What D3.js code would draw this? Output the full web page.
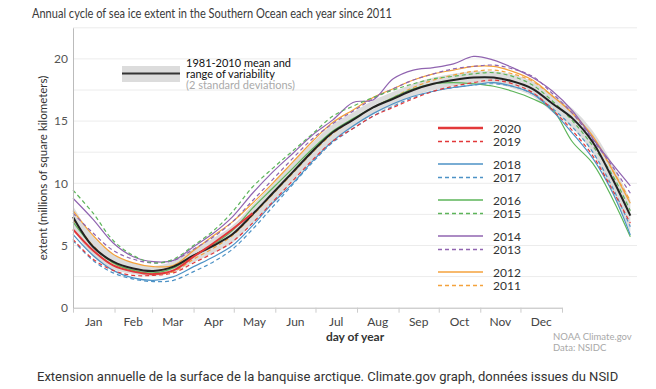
<!DOCTYPE html>
<html>
<head>
<meta charset="utf-8">
<script src="https://cdn.jsdelivr.net/npm/d3@7"></script>
<style>
body { margin: 0; background: #fff; }
svg { display: block; font-family: Lato, "Noto Sans", sans-serif; }
</style>
</head>
<body>
<svg id="chart" width="656" height="389"></svg>
<script>
// day of year for every sample (the curves run on past the Dec label, as drawn)
var days = [1, 16, 31, 46, 61, 76, 91, 106, 120, 135, 150, 165, 180, 195, 210, 225, 240, 255, 270, 285, 300, 315, 329, 344, 359, 374, 389, 404, 417];

// 1981-2010 mean and +/- 2 standard deviations
var meanExtent = [7.3, 4.9, 3.7, 3.15, 2.95, 3.3, 4.2, 5.0, 5.9, 7.5, 9.2, 10.9, 12.6, 14.1, 15.1, 16.1, 16.8, 17.5, 18.0, 18.3, 18.5, 18.5, 18.2, 17.6, 16.4, 15.2, 13.3, 10.3, 7.4];
var rangeLow = [6.4, 4.1, 3.1, 2.7, 2.55, 2.85, 3.65, 4.4, 5.2, 6.75, 8.45, 10.15, 11.9, 13.45, 14.5, 15.55, 16.25, 17.0, 17.5, 17.8, 18.0, 18.0, 17.65, 17.0, 15.7, 14.4, 12.4, 9.1, 6.1];
var rangeHigh = [8.2, 5.7, 4.3, 3.6, 3.35, 3.75, 4.75, 5.6, 6.6, 8.25, 9.95, 11.65, 13.3, 14.75, 15.7, 16.65, 17.35, 18.0, 18.5, 18.8, 19.0, 19.0, 18.75, 18.2, 17.1, 16.0, 14.2, 11.5, 8.7];

// yearly extent, millions of km2
var y2020 = [6.3, 4.6, 3.4, 2.9, 2.7, 3.0, 4.1, 5.2, 6.3, 7.6];
var y2019 = [5.5, 3.9, 3.0, 2.6, 2.6, 2.8, 3.6, 4.4, 5.3, 6.8, 8.5, 10.2, 11.9, 13.4, 14.4, 15.4, 16.1, 16.8, 17.4, 17.8, 18.1, 18.3, 18.0, 17.3, 15.9, 14.2, 12.2, 9.4, 6.8];
var y2018 = [5.9, 4.2, 3.0, 2.4, 2.2, 2.5, 3.3, 4.1, 5.0, 6.6, 8.4, 10.0, 11.8, 13.4, 14.6, 15.6, 16.4, 17.0, 17.4, 17.7, 17.9, 18.1, 17.8, 17.2, 15.8, 14.0, 12.0, 9.2, 5.85];
var y2017 = [5.4, 3.8, 2.8, 2.3, 2.1, 2.2, 2.9, 3.7, 4.7, 6.3, 8.1, 9.9, 11.7, 13.3, 14.4, 15.4, 16.2, 16.9, 17.4, 17.7, 17.9, 18.0, 17.8, 17.2, 16.0, 14.5, 12.5, 9.6, 6.5];
var y2016 = [6.9, 4.9, 3.6, 3.0, 2.8, 3.2, 4.2, 5.1, 6.2, 8.0, 9.6, 11.2, 12.8, 14.2, 15.2, 16.1, 16.9, 17.6, 18.0, 18.1, 18.0, 17.8, 17.4, 16.8, 15.9, 13.3, 11.6, 8.7, 5.7];
var y2015 = [9.45, 7.6, 5.4, 4.2, 3.6, 3.9, 5.0, 6.2, 7.7, 9.7, 11.2, 12.6, 14.0, 15.4, 16.2, 16.9, 17.5, 18.0, 18.4, 18.6, 18.8, 18.9, 18.6, 17.9, 16.6, 15.0, 13.0, 10.6, 7.8];
var y2014 = [8.8, 7.1, 5.2, 4.1, 3.7, 3.8, 4.9, 6.0, 7.3, 9.2, 10.9, 12.4, 13.9, 15.1, 16.5, 16.7, 18.4, 19.1, 19.3, 19.6, 20.2, 19.9, 19.3, 18.5, 17.4, 15.8, 13.6, 11.5, 9.8];
var y2013 = [7.6, 6.0, 4.6, 3.9, 3.6, 3.8, 4.7, 5.7, 6.9, 8.6, 10.3, 12.0, 13.6, 14.8, 15.8, 16.8, 17.6, 18.3, 18.8, 19.2, 19.4, 19.5, 19.2, 18.6, 17.2, 15.6, 13.5, 11.3, 9.2];
var y2012 = [7.8, 5.8, 4.3, 3.6, 3.3, 3.4, 4.6, 5.8, 6.9, 8.4, 10.0, 11.7, 13.4, 14.9, 15.9, 16.9, 17.6, 18.3, 18.8, 19.1, 19.4, 19.4, 19.0, 18.3, 17.0, 15.6, 13.8, 11.0, 8.4];
var y2011 = [7.1, 5.0, 3.6, 3.0, 2.7, 2.9, 3.9, 4.8, 5.8, 7.4, 9.1, 10.8, 12.5, 14.0, 15.1, 16.1, 16.9, 17.7, 18.3, 18.7, 19.0, 19.1, 18.8, 18.2, 17.0, 15.6, 13.7, 11.0, 8.6];

var years = ["2020", "2019", "2018", "2017", "2016", "2015", "2014", "2013", "2012", "2011"];
var yearValues = [y2020, y2019, y2018, y2017, y2016, y2015, y2014, y2013, y2012, y2011];

var monthLabels = ["Jan", "Feb", "Mar", "Apr", "May", "Jun", "Jul", "Aug", "Sep", "Oct", "Nov", "Dec"];
var monthStarts = [1, 32, 60, 91, 121, 152, 182, 213, 244, 274, 305, 335, 366];
var yTicks = [0, 5, 10, 15, 20];
var gridTicks = [2.5, 5, 7.5, 10, 12.5, 15, 17.5, 20, 22.5];

// pair colours: solid = even year, dashed = odd year
var pairColors = ["#e2383a", "#4d92c6", "#5db55a", "#9064b0", "#f4a23c"];

function init(){
	var svg = d3.select("#chart");

	var x = d3.scaleLinear().domain([1, 366]).range([73, 562]);
	var y = d3.scaleLinear().domain([0, 22.5]).range([307.7, 27.8]);

	// title (condensed face in the original)
	svg.append("text")
		.attr("x", 32).attr("y", 18)
		.attr("font-size", 13.5).attr("fill", "#3a3a3a")
		.attr("textLength", 360).attr("lengthAdjust", "spacingAndGlyphs")
		.text("Annual cycle of sea ice extent in the Southern Ocean each year since 2011");

	// gridlines
	svg.append("g").selectAll("line")
		.data(gridTicks).enter().append("line")
		.attr("x1", 73).attr("x2", 637)
		.attr("y1", function(d){ return y(d); })
		.attr("y2", function(d){ return y(d); })
		.attr("stroke", "#ececec").attr("stroke-width", 1);

	// variability band
	var area = d3.area()
		.x(function(d){ return x(d.day); })
		.y0(function(d){ return y(d.lo); })
		.y1(function(d){ return y(d.hi); })
		.curve(d3.curveCatmullRom.alpha(0.5));
	var bandData = days.map(function(d, i){ return {day: d, lo: rangeLow[i], hi: rangeHigh[i]}; });
	svg.append("path").datum(bandData)
		.attr("d", area).attr("fill", "#dcdcdc");

	var line = d3.line()
		.x(function(d){ return x(d.day); })
		.y(function(d){ return y(d.v); })
		.curve(d3.curveCatmullRom.alpha(0.5));

	function series(vals){
		return vals.map(function(v, i){ return {day: days[i], v: v}; });
	}

	// years, oldest first, 2020 last
	var order = [9, 8, 7, 6, 5, 4, 3, 2, 1];
	order.forEach(function(i){
		svg.append("path").datum(series(yearValues[i]))
			.attr("d", line)
			.attr("fill", "none")
			.attr("stroke", pairColors[Math.floor(i / 2)])
			.attr("stroke-width", 1.2)
			.attr("stroke-dasharray", i % 2 ? "4,3" : null);
	});

	svg.append("path").datum(series(meanExtent))
		.attr("d", line).attr("fill", "none")
		.attr("stroke", "#222").attr("stroke-width", 2);

	svg.append("path").datum(series(y2020))
		.attr("d", line).attr("fill", "none")
		.attr("stroke", pairColors[0]).attr("stroke-width", 2);

	// axes
	var xAxis = d3.axisBottom(x)
		.tickValues(monthStarts)
		.tickSize(5)
		.tickSizeOuter(0)
		.tickFormat("");
	var gx = svg.append("g").attr("transform", "translate(0,307.7)").call(xAxis);
	gx.select(".domain").attr("stroke", "#bbb");
	gx.selectAll(".tick line").attr("stroke", "#ccc");

	svg.append("g").selectAll("text")
		.data(monthLabels).enter().append("text")
		.attr("x", function(d, i){ return x((monthStarts[i] + monthStarts[i + 1]) / 2); })
		.attr("y", 326)
		.attr("text-anchor", "middle")
		.attr("font-size", 12).attr("fill", "#444")
		.text(function(d){ return d; });

	var yAxis = d3.axisLeft(y).tickValues(yTicks).tickSize(0).tickPadding(5);
	var gy = svg.append("g").attr("transform", "translate(73,0)").call(yAxis);
	gy.select(".domain").attr("stroke", "#bbb");
	gy.selectAll("text").attr("font-size", 12).attr("fill", "#555")
		.attr("font-family", "Lato, 'Noto Sans', sans-serif");

	svg.append("text")
		.attr("transform", "translate(47,168) rotate(-90)")
		.attr("text-anchor", "middle")
		.attr("font-size", 11.5).attr("fill", "#333")
		.text("extent (millions of square kilometers)");

	svg.append("text")
		.attr("x", 355).attr("y", 341)
		.attr("text-anchor", "middle")
		.attr("font-size", 12).attr("font-weight", "bold").attr("fill", "#333")
		.text("day of year");

	svg.append("text").attr("x", 553).attr("y", 340)
		.attr("font-size", 9.5).attr("fill", "#a8a8a8")
		.text("NOAA Climate.gov");
	svg.append("text").attr("x", 553).attr("y", 351)
		.attr("font-size", 9.5).attr("fill", "#a8a8a8")
		.text("Data: NSIDC");

	// mean legend
	svg.append("rect").attr("x", 122).attr("y", 66).attr("width", 58).attr("height", 16).attr("fill", "#dcdcdc");
	svg.append("line").attr("x1", 122).attr("x2", 180).attr("y1", 73.5).attr("y2", 73.5)
		.attr("stroke", "#333").attr("stroke-width", 2);
	var lg = svg.append("g").attr("font-size", 11);
	lg.append("text").attr("x", 186).attr("y", 67).attr("fill", "#111").text("1981-2010 mean and");
	lg.append("text").attr("x", 186).attr("y", 78).attr("fill", "#111").text("range of variability");
	lg.append("text").attr("x", 186).attr("y", 89).attr("fill", "#aaa").text("(2 standard deviations)");

	// year legend
	var yl = svg.append("g").selectAll("g")
		.data(years).enter().append("g")
		.attr("transform", function(d, i){
			return "translate(0," + (128 + Math.floor(i / 2) * 36 + (i % 2) * 13.5) + ")";
		});
	yl.append("line")
		.attr("x1", 438).attr("x2", 483)
		.attr("stroke", function(d, i){ return pairColors[Math.floor(i / 2)]; })
		.attr("stroke-width", function(d, i){ return i == 0 ? 2.5 : 1.3; })
		.attr("stroke-dasharray", function(d, i){ return i % 2 ? "4,3" : null; });
	yl.append("text")
		.attr("x", 493).attr("y", 4.5)
		.attr("font-size", 12).attr("fill", "#333")
		.text(function(d){ return d; });

	// caption
	svg.append("text")
		.attr("x", 37).attr("y", 381)
		.attr("font-family", "Roboto, sans-serif")
		.attr("font-size", 13).attr("fill", "#333")
		.text("Extension annuelle de la surface de la banquise arctique. Climate.gov graph, données issues du NSID");
}

window.onload = init;
</script>
</body>
</html>
